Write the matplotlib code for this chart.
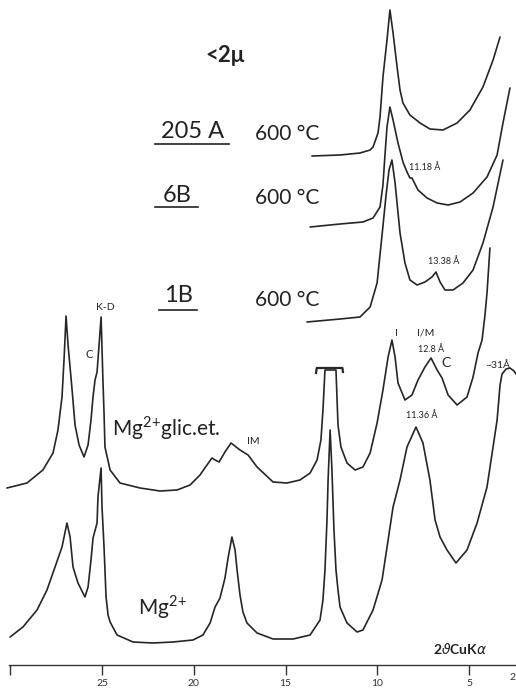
import matplotlib
matplotlib.use("Agg")
import matplotlib.pyplot as plt

plt.rcParams['font.family'] = ['Lato', 'DejaVu Sans']
plt.rcParams['mathtext.fontset'] = 'custom'
plt.rcParams['mathtext.rm'] = 'Lato'
plt.rcParams['mathtext.it'] = 'DejaVu Sans:italic'
plt.rcParams['mathtext.bf'] = 'Lato:bold'

# ---- data: 2theta (deg, CuKa) and stacked intensity (arbitrary units) ----
t_205A = [13.56, 12.03, 10.94, 10.39, 10.23, 9.96, 9.85, 9.69, 9.47, 9.31, 9.14, 8.92,
          8.76, 8.60, 8.22, 7.67, 7.13, 6.42, 5.65, 4.95, 4.24, 3.69, 3.31]
i_205A = [509, 510, 512, 515, 518, 532, 548, 588, 625, 655, 632, 598,
          575, 562, 550, 542, 536, 535, 542, 555, 578, 605, 628]

t_6B = [13.66, 12.03, 10.78, 10.23, 9.85, 9.69, 9.58, 9.47, 9.31, 9.14, 8.87, 8.60, 8.38,
        8.22, 8.11, 8.00, 7.78, 7.29, 6.74, 6.14, 5.49, 4.78, 4.02, 3.47, 3.15, 2.77]
i_6B = [438, 441, 443, 447, 458, 480, 510, 538, 558, 545, 522, 503, 493,
        487, 487, 483, 475, 467, 462, 460, 463, 472, 488, 510, 542, 577]

t_1B = [13.83, 12.03, 10.94, 10.39, 10.01, 9.74, 9.52, 9.36, 9.20, 9.03, 8.76, 8.49, 8.22,
        7.83, 7.40, 7.02, 6.80, 6.58, 6.31, 5.87, 5.33, 4.78, 4.24, 3.69, 3.15]
i_1B = [343, 346, 348, 358, 382, 430, 470, 495, 505, 482, 432, 402, 385,
        380, 383, 388, 393, 383, 375, 375, 382, 395, 422, 458, 505]

t_glyc = [30.18, 29.09, 28.22, 27.67, 27.40, 27.18, 27.07, 26.96, 26.85, 26.63,
          26.47, 26.25, 25.98, 25.76, 25.60, 25.49, 25.38, 25.27, 25.16, 25.05,
          24.95, 24.89, 24.84, 24.56, 24.02, 22.93, 21.84, 20.91, 20.20, 19.66,
          19.28, 19.01, 18.84, 18.62, 18.30, 17.97, 17.48, 17.04, 16.55, 15.68,
          14.92, 14.21, 13.66, 13.28, 13.07, 12.96, 12.85, 12.25, 12.19, 12.14,
          11.98, 11.65, 11.21, 10.78, 10.39, 10.01, 9.69, 9.41, 9.20, 9.03,
          8.87, 8.49, 8.11, 7.78, 7.40, 7.07, 6.74, 6.47, 6.14, 5.65,
          5.11, 4.78, 4.51, 4.29, 4.13, 4.02, 3.86]
i_glyc = [177, 182, 195, 212, 235, 268, 305, 349, 320, 275,
          240, 220, 208, 220, 245, 268, 285, 293, 320, 348,
          285, 252, 218, 195, 182, 177, 174, 175, 180, 190,
          200, 207, 205, 203, 213, 222, 215, 210, 198, 183,
          182, 185, 192, 205, 225, 255, 295, 295, 265, 240,
          218, 202, 195, 198, 212, 242, 275, 308, 325, 308,
          282, 265, 270, 285, 298, 307, 295, 287, 270, 260,
          268, 288, 312, 325, 350, 372, 417]

t_mg = [30.01, 29.31, 28.54, 28.00, 27.56, 27.18, 26.91, 26.74, 26.58, 26.31,
        25.93, 25.76, 25.60, 25.49, 25.27, 25.22, 25.05, 25.00, 24.89, 24.78,
        24.67, 24.56, 24.18, 23.31, 22.22, 21.13, 20.04, 19.50, 19.11, 18.84,
        18.57, 18.30, 18.13, 17.92, 17.75, 17.64, 17.48, 17.32, 17.10, 16.55,
        15.68, 14.59, 13.66, 13.12, 12.96, 12.85, 12.74, 12.68, 12.57, 12.47,
        12.36, 12.25, 12.14, 12.03, 11.65, 11.10, 10.78, 10.23, 9.74, 9.41,
        9.14, 8.76, 8.38, 7.89, 7.51, 7.13, 6.85, 6.58, 6.20, 5.71,
        5.11, 4.56, 4.02, 3.69, 3.47, 3.31, 3.20, 2.98, 2.77, 2.55,
        2.44]
i_mg = [28, 38, 55, 75, 98, 118, 142, 128, 98, 82,
        68, 78, 105, 127, 142, 168, 197, 158, 118, 68,
        50, 43, 30, 23, 22, 23, 25, 30, 42, 58,
        67, 87, 107, 128, 115, 95, 70, 53, 42, 32,
        26, 26, 30, 45, 65, 95, 145, 185, 235, 195,
        135, 95, 75, 58, 42, 33, 35, 55, 85, 125,
        158, 185, 218, 238, 222, 185, 145, 128, 115, 102,
        115, 142, 178, 218, 245, 280, 291, 296, 297, 294,
        291]

# off-scale marker above the truncated glycolated 12.6 deg peak
t_clip = [13.34, 13.30, 11.90, 11.87]
i_clip = [292, 297, 297, 293]

tick_vals = [30, 25, 20, 15, 10, 5]
tick_labels = ['', '25', '20', '15', '10', '5']

# ---- figure ----
fig = plt.figure(figsize=(5.16, 6.92), dpi=100)
ax = fig.add_axes([0, 0, 1, 1])
ax.set_xlim(30.559, 2.44)
ax.set_ylim(-27, 665)

lc = '#262626'
lw = 1.2
for t, i in [(t_205A, i_205A), (t_6B, i_6B), (t_1B, i_1B), (t_glyc, i_glyc), (t_mg, i_mg)]:
    ax.plot(t, i, color=lc, lw=lw, solid_joinstyle='round', solid_capstyle='round')
ax.plot(t_clip, i_clip, color=lc, lw=1.6)

# axis styling
for s in ['top', 'left', 'right']:
    ax.spines[s].set_visible(False)
ax.spines['bottom'].set_position(('data', 0))
ax.spines['bottom'].set_bounds(2.44, 30.07)
ax.spines['bottom'].set_color('#333333')
ax.spines['bottom'].set_linewidth(1.0)
ax.set_xticks(tick_vals)
ax.set_xticklabels(tick_labels)
ax.tick_params(axis='x', direction='out', length=7, width=1.0, color='#333333',
               labelsize=7.5, labelcolor='#333333', pad=3)
ax.set_yticks([])
ax.text(2.45, -13, '2', fontsize=7.5, color='#333333', ha='right', va='center')

tc = '#222222'
# sample labels
ax.text(18.30, 609, '<2μ', fontsize=16, fontweight='bold', ha='center', va='center', color=tc)
ax.text(20.04, 534, '205 A', fontsize=17, ha='center', va='center', color=tc)
ax.plot([22.11, 18.08], [521, 521], color=tc, lw=1.2)
ax.text(20.91, 470, '6B', fontsize=17, ha='center', va='center', color=tc)
ax.plot([22.11, 19.77], [458, 458], color=tc, lw=1.2)
ax.text(20.86, 370, '1B', fontsize=17, ha='center', va='center', color=tc)
ax.plot([21.89, 19.82], [355, 355], color=tc, lw=1.2)
for h in [531, 467, 365]:
    ax.text(16.66, h, '600 °C', fontsize=15, ha='left', va='center', color=tc)

# peak annotations
ax.text(7.40, 498, '11.18 Å', fontsize=6.5, ha='center', va='center', color=tc)
ax.text(6.36, 404, '13.38 Å', fontsize=6.5, ha='center', va='center', color=tc)
ax.text(8.98, 332, 'I', fontsize=7.5, ha='center', va='center', color=tc)
ax.text(7.34, 332, 'I/M', fontsize=7.5, ha='center', va='center', color=tc)
ax.text(7.07, 315, '12.8 Å', fontsize=6.5, ha='center', va='center', color=tc)
ax.text(6.25, 302, 'C', fontsize=10, ha='center', va='center', color=tc)
ax.text(3.42, 300, '~31Å', fontsize=7.5, ha='center', va='center', color=tc)
ax.text(7.56, 249, '11.36 Å', fontsize=6.5, ha='center', va='center', color=tc)
ax.text(16.77, 223, 'IM', fontsize=7.5, ha='center', va='center', color=tc)
ax.text(24.84, 357, 'K-D', fontsize=7.5, ha='center', va='center', color=tc)
ax.text(25.71, 310, 'C', fontsize=8, ha='center', va='center', color=tc)
ax.text(24.46, 237, r'Mg$^{2}$$^{+}$glic.et.', fontsize=15, ha='left', va='center', color=tc)
ax.text(23.04, 58, r'Mg$^{2}$$^{+}$', fontsize=15, ha='left', va='center', color=tc)
ax.text(5.49, 16, r'2$\vartheta$CuK$\alpha$', fontsize=10, fontweight='bold',
        ha='center', va='center', color=tc)

fig.savefig('out.png', dpi=100)
